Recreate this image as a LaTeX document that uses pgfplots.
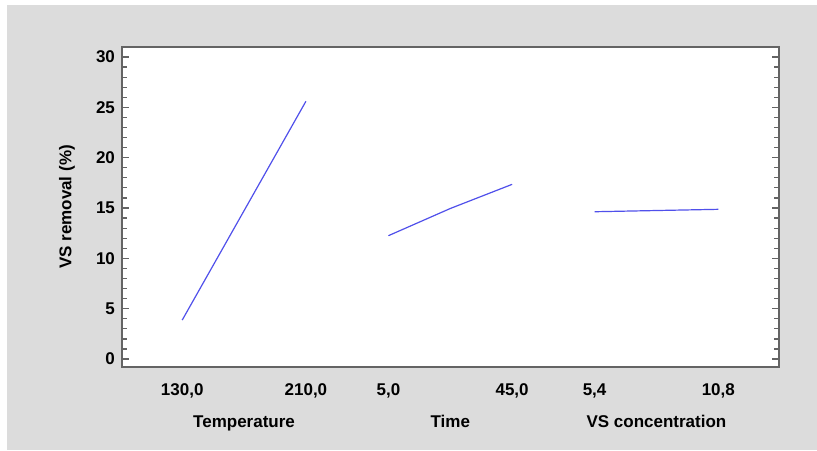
\documentclass[border=0pt]{standalone}
\usepackage{pgfplots}
\pgfplotsset{compat=1.18}
\usepackage{fontspec}
\setmainfont{Liberation Sans}
\definecolor{bggray}{RGB}{220,220,220}
\definecolor{axgray}{RGB}{100,100,100}
\definecolor{lineblue}{RGB}{80,80,235}
\begin{document}
\begin{tikzpicture}
\path[use as bounding box] (-61pt,-41.5pt) rectangle (347.5pt,183.5pt);
\fill[bggray] (-57.5pt,-41.5pt) rectangle (347.5pt,181pt);
\begin{axis}[
  at={(0,0)}, anchor=south west,
  scale only axis, width=328.5pt, height=160pt,
  xmin=-0.73, xmax=7.236, ymin=-0.79, ymax=30.99,
  axis background/.style={fill=white},
  axis line style={draw=axgray, line width=0.75pt},
  clip=false,
  xtick={0,1.5,2.5,4,5,6.5},
  xticklabels={{130,0},{210,0},{5,0},{45,0},{5,4},{10,8}},
  major x tick style={draw=none},
  ytick={0,5,10,15,20,25,30},
  minor y tick num=4,
  tick align=inside,
  major tick length=3.5pt, minor tick length=2.5pt,
  y tick style={draw=axgray, line width=0.6pt},
  /pgf/number format/assume math mode=true,
  ticklabel style={font=\bfseries\fontsize{8.5}{10}\selectfont, text=black},
  xticklabel style={yshift=-5pt},
  ylabel={VS removal (\%)},
  ylabel style={at={(axis description cs:-0.0837,0.5)}, anchor=center, font=\bfseries\fontsize{8.5}{10}\selectfont},
]
\addplot[lineblue, line width=0.6pt] coordinates {(0,3.87) (1.5,25.6)};
\addplot[lineblue, line width=0.6pt] coordinates {(2.5,12.25) (3.25,14.95) (4,17.35)};
\addplot[lineblue, line width=0.6pt] coordinates {(5,14.63) (6.5,14.87)};
\node[anchor=north, inner sep=0pt, yshift=-24pt, font=\bfseries\fontsize{8.5}{10}\selectfont] at (axis cs:0.75,-0.79) {Temperature};
\node[anchor=north, inner sep=0pt, yshift=-24pt, font=\bfseries\fontsize{8.5}{10}\selectfont] at (axis cs:3.25,-0.79) {Time};
\node[anchor=north, inner sep=0pt, yshift=-24pt, font=\bfseries\fontsize{8.5}{10}\selectfont] at (axis cs:5.75,-0.79) {VS concentration};
\end{axis}
\end{tikzpicture}
\end{document}
